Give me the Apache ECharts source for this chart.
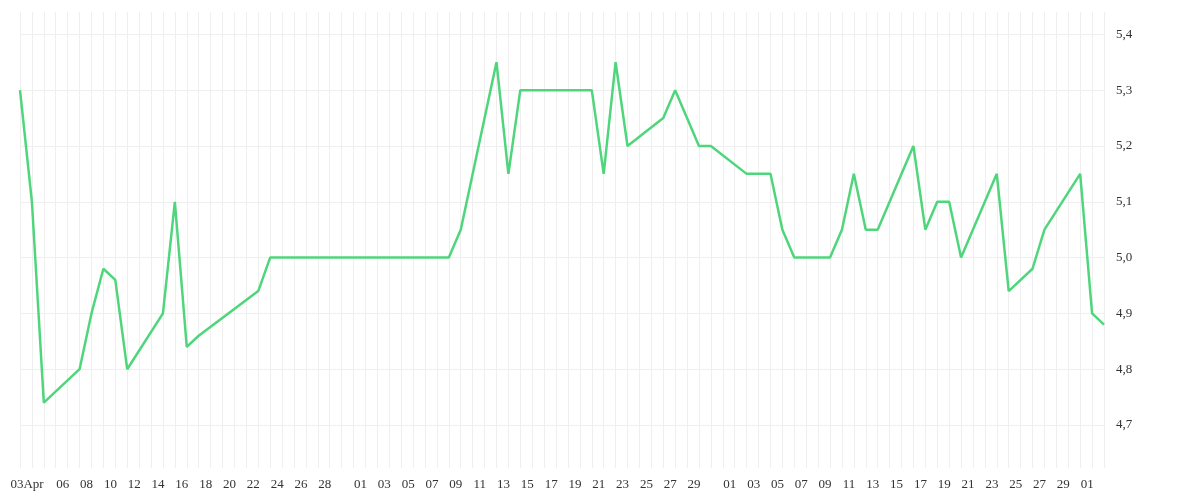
<!DOCTYPE html>
<html>
<head>
    <meta charset="utf-8">
    <title>ECharts</title>
    <script src="https://cdn.jsdelivr.net/npm/echarts@6/dist/echarts.min.js"></script>
</head>
<body style="margin:0">
<div id="main" style="width: 1200px;height:500px;"></div>
<script type="text/javascript">
    // day offsets from 3 Apr and values
    const pointDays = [0, 1, 2, 5, 6, 7, 8, 9, 12, 13, 14, 15, 20, 21, 36, 37, 40, 41, 42, 48, 49, 50, 51, 54, 55, 57, 58,
        61, 63, 64, 65, 68, 69, 70, 71, 72, 75, 76, 77, 78, 79, 82, 83, 85, 86, 89, 90, 91];
    const pointValues = [5.3, 5.1, 4.74, 4.8, 4.9, 4.98, 4.96, 4.8, 4.9, 5.1, 4.84, 4.86, 4.94, 5.0, 5.0, 5.05, 5.35, 5.15, 5.3, 5.3, 5.15, 5.35, 5.2, 5.25, 5.3, 5.2, 5.2,
        5.15, 5.15, 5.05, 5.0, 5.0, 5.05, 5.15, 5.05, 5.05, 5.2, 5.05, 5.1, 5.1, 5.0, 5.15, 4.94, 4.98, 5.05, 5.15, 4.9, 4.88];
    const yTicks = [4.7, 4.8, 4.9, 5.0, 5.1, 5.2, 5.3, 5.4];

    // one category per day, 3 Apr .. 3 Jul
    const months = ['Apr', 'May', 'Jun', 'Jul'];
    const monthLen = [30, 31, 30, 31];
    const days = [];
    let m = 0, d = 3;
    for (let i = 0; i < 92; i++) {
        days.push({ m: m, d: d });
        d++;
        if (d > monthLen[m]) { d = 1; m++; }
    }
    const categories = days.map(x => months[x.m] + ' ' + x.d);
    const series = new Array(92).fill(null);
    pointDays.forEach((k, i) => series[k] = pointValues[i]);

    function dayLabel(i) {
        const x = days[i];
        const pad = (x.d < 10 ? '0' : '') + x.d;
        if (i === 0) return pad + 'Apr';
        if (x.m === 0) return (x.d % 2 === 0 && x.d >= 6 && x.d <= 28) ? pad : '';
        if (x.m === 1) return (x.d % 2 === 1 && x.d <= 29) ? pad : '';
        if (x.m === 2) return (x.d % 2 === 1 && x.d <= 29) ? pad : '';
        return x.d === 1 ? pad : '';
    }

    let myChart = echarts.init(document.getElementById('main'));
    myChart.setOption({
        animation: false,
        grid: { left: 20, right: 96, top: 12, bottom: 32 },
        xAxis: {
            type: 'category',
            data: categories,
            boundaryGap: false,
            axisLine: { show: false },
            axisTick: { show: false },
            axisLabel: {
                interval: 0,
                formatter: (v, i) => dayLabel(i),
                fontFamily: 'Liberation Serif',
                fontSize: 13,
                color: '#333',
                margin: 10,
                padding: [0, 0, 0, 14]
            },
            splitLine: { show: true, interval: 0, lineStyle: { color: '#efefef' } }
        },
        yAxis: {
            type: 'value',
            position: 'right',
            min: 4.623,
            max: 5.44,
            axisLine: { show: false },
            axisTick: { show: false, customValues: yTicks },
            axisLabel: {
                customValues: yTicks,
                formatter: v => v.toFixed(1).replace('.', ','),
                fontFamily: 'Liberation Serif',
                fontSize: 13,
                color: '#333',
                margin: 12
            },
            splitLine: { show: true, lineStyle: { color: '#efefef' } }
        },
        series: [{
            type: 'line',
            data: series,
            connectNulls: true,
            showSymbol: false,
            lineStyle: { color: '#4fd67c', width: 2.5 }
        }]
    });
</script>
</body>
</html>
